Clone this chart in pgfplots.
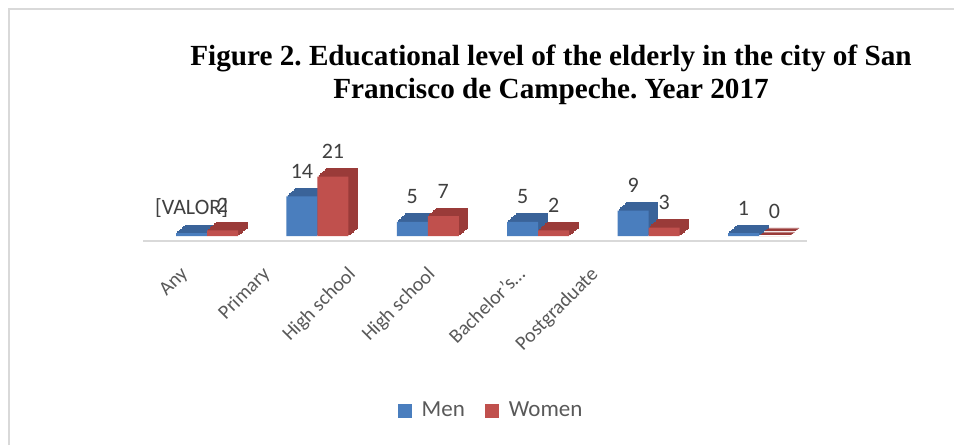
\documentclass[border=0pt]{standalone}
\usepackage{pgfplots}
\usepackage{pgfplotstable}
\pgfplotsset{compat=1.18}
\usepackage{fontspec}
\setmainfont{Carlito}
\newfontfamily\titlefont{Liberation Serif}
\definecolor{menfront}{HTML}{4A7EBE}
\definecolor{menside}{HTML}{3A6399}
\definecolor{womenfront}{HTML}{C0504D}
\definecolor{womenside}{HTML}{9A3B39}
\definecolor{txt}{HTML}{404040}
\definecolor{ticktxt}{HTML}{595959}
\definecolor{frame}{HTML}{D9D9D9}
\pgfplotstableread{
x men women mlab
0 1 2 {[VALOR]}
1 14 21 14
2 5 7 5
3 5 2 5
4 9 3 9
5 1 0 1
}\data
\frenchspacing
\begin{document}
\begin{tikzpicture}
\useasboundingbox (0,0) rectangle (477pt,222.5pt);
\fill[white] (0,0) rectangle (477pt,222.5pt);
\draw[frame, line width=1pt] (4.25pt,0) -- (4.25pt,217.75pt) -- (477pt,217.75pt);
\node[align=center, font=\titlefont\bfseries\fontsize{14.6pt}{16.8pt}\selectfont] at (275.5pt,185pt)
  {Figure 2. Educational level of the elderly in the city of San\\Francisco de Campeche. Year 2017};
\begin{axis}[
  at={(73.15pt,104.5pt)}, anchor=south west,
  scale only axis, width=331.2pt, height=35.4pt,
  xmin=-0.55, xmax=5.45, ymin=0, ymax=25,
  clip=false,
  axis line style={draw=none},
  ytick=\empty,
  major tick length=0pt,
  xtick={-0.25,0.49,1.265,1.985,2.80,3.46},
  xticklabels={Any,Primary,High school,High school,Bachelor's…,Postgraduate},
  xticklabel style={yshift=-14.5pt, rotate=45, anchor=north east, inner sep=0pt,
     font=\fontsize{10pt}{12pt}\selectfont, text=ticktxt},
  ybar, bar width=15.5pt,
  legend style={at={(0.522,-2.47)}, anchor=center, draw=none, legend columns=2,
     font=\fontsize{11.5pt}{13pt}\selectfont, text=ticktxt,
     /tikz/every even column/.append style={column sep=8pt}},
]
\draw[frame, line width=1pt] (rel axis cs:0,0) ++(-1.5pt,-2.5pt) -- ([xshift=-1pt,yshift=-2.5pt]rel axis cs:1,0);
% men extrusion
\pgfplotsinvokeforeach{1,...,6}{
\addplot[forget plot, fill=menside, draw=menside, line width=0.4pt, bar shift=-7.75pt,
  xshift=#1*0.75pt, yshift=#1*0.667pt] table[x=x,y=men] {\data};
}
\addplot[fill=menfront, draw=none, bar shift=-7.75pt,
  point meta=explicit symbolic, nodes near coords,
  every node near coord/.append style={anchor=center, yshift=12.5pt, text=txt,
     font=\fontsize{11pt}{13pt}\selectfont},
  legend image code/.code={\fill[menfront] (0pt,-3.5pt) rectangle (7pt,3.5pt); \path (10pt,0pt);}]
  table[x=x,y=men,meta=mlab] {\data};
\addlegendentry{Men}
% women extrusion
\pgfplotsinvokeforeach{1,...,6}{
\addplot[forget plot, fill=womenside, draw=womenside, line width=0.4pt, bar shift=7.75pt,
  xshift=#1*0.75pt, yshift=#1*0.667pt] table[x=x,y=women] {\data};
}
\addplot[fill=womenfront, draw=none, bar shift=7.75pt,
  point meta=explicit symbolic, nodes near coords,
  every node near coord/.append style={anchor=center, yshift=12.5pt, text=txt,
     font=\fontsize{11pt}{13pt}\selectfont},
  legend image code/.code={\fill[womenfront] (0pt,-3.5pt) rectangle (7pt,3.5pt); \path (10pt,0pt);}]
  table[x=x,y=women,meta=women] {\data};
\addlegendentry{Women}
\end{axis}
\end{tikzpicture}
\end{document}
